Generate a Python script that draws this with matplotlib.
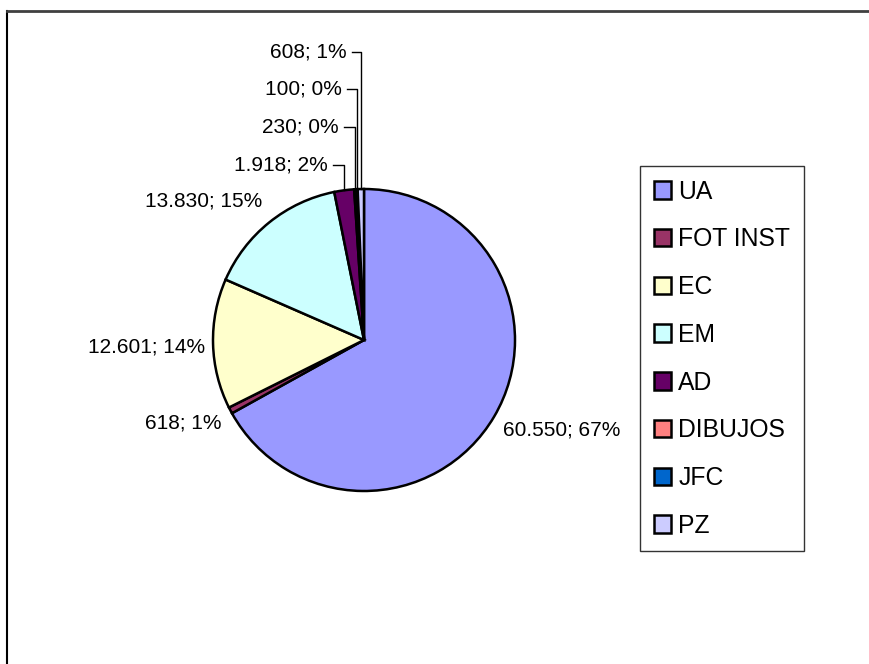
import numpy as np
import matplotlib
matplotlib.use("Agg")
import matplotlib.pyplot as plt

plt.rcParams['font.family'] = ['Liberation Sans', 'DejaVu Sans']

# data
names = ['UA', 'FOT INST', 'EC', 'EM', 'AD', 'DIBUJOS', 'JFC', 'PZ']
values = [60550, 618, 12601, 13830, 1918, 230, 100, 608]
colors = ['#9999FF', '#993366', '#FFFFCC', '#CCFFFF', '#660066', '#FF8080', '#0066CC', '#CCCCFF']

# label layout in image pixels (x, y from top, alignment, leader line)
label_pos = [(503, 430, 'left', False), (222, 423, 'right', False),
             (205, 347, 'right', False), (262, 201, 'right', False),
             (328, 165, 'right', True), (339, 127, 'right', True),
             (342, 89, 'right', True), (347, 52, 'right', True)]

W, H = 870, 664
fig = plt.figure(figsize=(W / 100, H / 100), dpi=100)
# axes = chart area; left/top spines are the chart border
ax = fig.add_axes([7 / W, 0, (W - 7) / W, (H - 11) / H])

cx, cy, r = 364, H - 340, 151
wedges, _ = ax.pie(values, colors=colors, startangle=90, counterclock=False,
                   center=(cx, cy), radius=r, frame=True,
                   wedgeprops=dict(edgecolor='black', linewidth=1.8))
ax.set_xlim(7, W)
ax.set_ylim(0, H - 11)
ax.set_xticks([])
ax.set_yticks([])
for s in ['right', 'bottom']:
    ax.spines[s].set_visible(False)
ax.spines['left'].set_linewidth(1.5)
ax.spines['top'].set_linewidth(2)
ax.spines['top'].set_color('#404040')

total = sum(values)
for w, v, (x, y, ha, lead) in zip(wedges, values, label_pos):
    txt = f"{v:,}".replace(",", ".") + f"; {round(100 * v / total)}%"
    ax.text(x, H - y, txt, ha=ha, va='center', fontsize=15)
    if lead:
        th = np.deg2rad((w.theta1 + w.theta2) / 2)
        ex, ey = cx + r * np.cos(th), cy + r * np.sin(th)
        ax.plot([x + 5, ex, ex], [H - y, H - y, ey], color='black', lw=1)

leg = ax.legend(wedges, names, loc='upper left',
                bbox_to_anchor=(640, H - 166), bbox_transform=ax.transData,
                fontsize=17.8, frameon=True, fancybox=False, borderaxespad=0,
                handlelength=0.7, handleheight=0.7, handletextpad=0.3,
                labelspacing=0.96, borderpad=0.55)
leg.get_frame().set_edgecolor('black')
leg.get_frame().set_linewidth(1)

fig.savefig('out.png', dpi=100)
